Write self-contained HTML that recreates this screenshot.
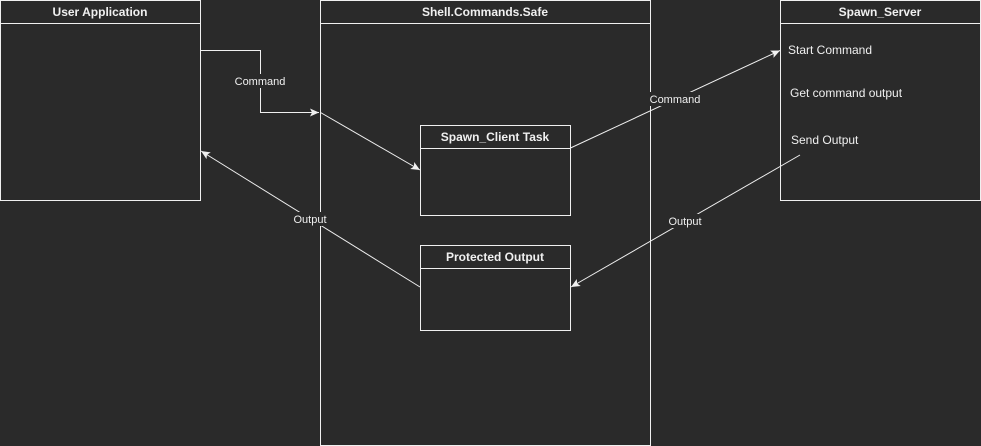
<!DOCTYPE html>
<html><head><style>
html,body{margin:0;padding:0;background:#2a2a2a;}
svg{display:block;}
text{font-family:"Liberation Sans",sans-serif;fill:#f0f0f0;}
</style></head><body>
<svg width="981" height="446" viewBox="0 0 981 446" xmlns="http://www.w3.org/2000/svg">
<defs>
<marker id="a" markerWidth="10" markerHeight="10" refX="9" refY="5" orient="auto" markerUnits="userSpaceOnUse">
<path d="M0,1 L9,5 L0,9 L2,5 Z" fill="#f0f0f0"/>
</marker>
</defs>
<rect width="981" height="446" fill="#2a2a2a"/>
<g fill="none" stroke="#f0f0f0" stroke-width="1">
<rect x="0.5" y="0.5" width="200" height="200"/><line x1="0" y1="23.5" x2="200" y2="23.5"/>
<rect x="320.5" y="0.5" width="330" height="445"/><line x1="320" y1="23.5" x2="650" y2="23.5"/>
<rect x="780.5" y="0.5" width="200" height="200"/><line x1="780" y1="23.5" x2="980" y2="23.5"/>
<rect x="420.5" y="125.5" width="150" height="90"/><line x1="420" y1="148.5" x2="570" y2="148.5"/>
<rect x="420.5" y="245.5" width="150" height="85"/><line x1="420" y1="268.5" x2="570" y2="268.5"/>
<polyline points="200.5,50.5 260.5,50.5 260.5,112.5 319,112.5" marker-end="url(#a)"/>
<line x1="320.5" y1="112.5" x2="420" y2="170" marker-end="url(#a)"/>
<line x1="570.5" y1="148" x2="780" y2="50.5" marker-end="url(#a)"/>
<line x1="800" y1="155" x2="571" y2="287" marker-end="url(#a)"/>
<line x1="420" y1="287" x2="201" y2="151" marker-end="url(#a)"/>
</g>
<g fill="#2a2a2a">
<rect x="233" y="74" width="55" height="14"/>
<rect x="648" y="92" width="55" height="14"/>
<rect x="666" y="214" width="38" height="14"/>
<rect x="292" y="212" width="37" height="14"/>
</g>
<g font-size="12" font-weight="bold" text-anchor="middle">
<text x="100" y="16">User Application</text>
<text x="485" y="16">Shell.Commands.Safe</text>
<text x="880" y="16">Spawn_Server</text>
<text x="495" y="141">Spawn_Client Task</text>
<text x="495" y="261">Protected Output</text>
</g>
<g font-size="11" text-anchor="middle">
<text x="260" y="85">Command</text>
<text x="675" y="103">Command</text>
<text x="685" y="225">Output</text>
<text x="310" y="223">Output</text>
</g>
<g font-size="12">
<text x="788" y="54">Start Command</text>
<text x="790" y="97">Get command output</text>
<text x="791" y="144">Send Output</text>
</g>
</svg>
</body></html>
